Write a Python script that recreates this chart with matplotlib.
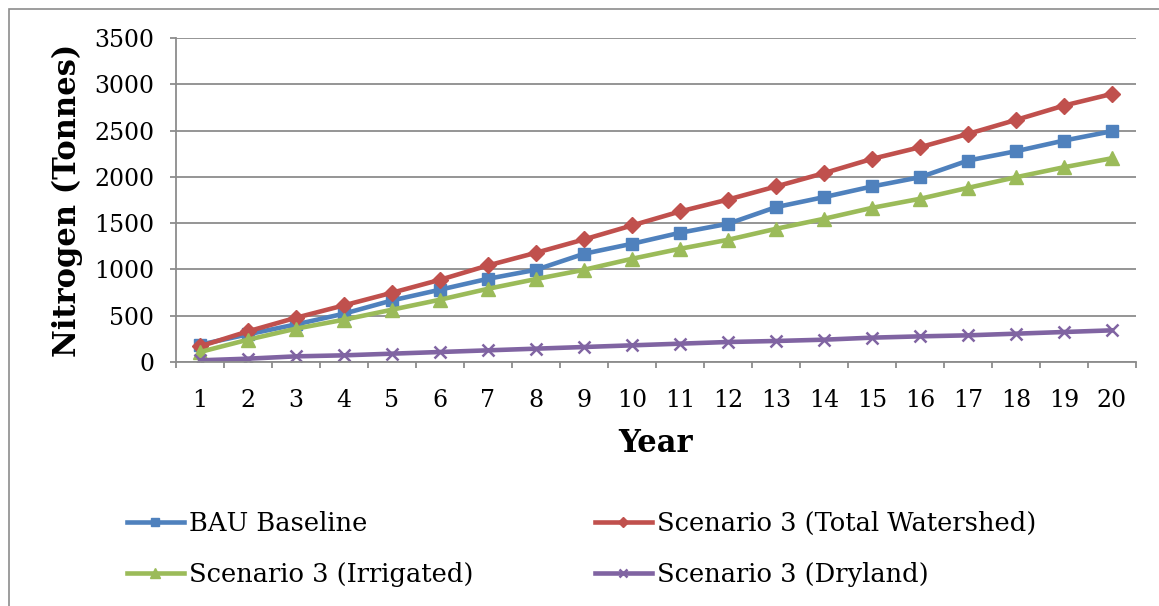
import matplotlib
matplotlib.use("Agg")
from matplotlib import pyplot as plt
from matplotlib.patches import Rectangle

years = list(range(1, 21))
bau_baseline = [187, 299, 406, 522, 665, 781, 899, 996, 1169, 1277,
                1396, 1493, 1673, 1781, 1896, 1996, 2176, 2277, 2392, 2493]
total_watershed = [169, 331, 478, 612, 748, 888, 1043, 1180, 1324, 1475,
                   1626, 1755, 1896, 2040, 2194, 2320, 2464, 2615, 2770, 2896]
irrigated = [108, 241, 360, 457, 565, 673, 791, 896, 996, 1115,
             1223, 1320, 1439, 1547, 1665, 1763, 1881, 1996, 2104, 2201]
dryland = [18, 36, 61, 72, 90, 108, 126, 144, 162, 180,
           198, 216, 227, 241, 263, 277, 288, 306, 324, 342]

series_names = ["BAU Baseline", "Scenario 3 (Total Watershed)",
                "Scenario 3 (Irrigated)", "Scenario 3 (Dryland)"]

plt.rcParams['font.family'] = ['DejaVu Serif']

fig = plt.figure(figsize=(11.59, 6.06), dpi=100)
W, H = 1159, 606
ax = fig.add_axes([176 / W, 1 - 362 / H, (1136 - 176) / W, (362 - 38) / H])

# outer chart frame
fig.patches.append(Rectangle((9 / W, -0.1), 1.2, 1 - 9 / H + 0.1, transform=fig.transFigure,
                             fill=False, edgecolor='#8c8c8c', linewidth=1.2))

lw = 3.3
l1, = ax.plot(years, bau_baseline, color='#4F81BD', lw=lw, marker='s', ms=9, label=series_names[0])
l2, = ax.plot(years, total_watershed, color='#C0504D', lw=lw, marker='D', ms=8, label=series_names[1])
l3, = ax.plot(years, irrigated, color='#9BBB59', lw=lw, marker='^', ms=10, label=series_names[2])
l4, = ax.plot(years, dryland, color='#8064A2', lw=lw, marker='x', ms=9, mew=1.8, label=series_names[3])

ax.set_xlim(0.5, 20.5)
ax.set_ylim(0, 3500)
ax.set_yticks(range(0, 3501, 500))
ax.yaxis.grid(True, color='#8c8c8c', linewidth=1.3)
ax.set_axisbelow(True)

ax.set_xticks(years)
ax.set_xticks([y + 0.5 for y in range(0, 21)], minor=True)
ax.tick_params(axis='x', which='major', length=0, pad=19.5, labelsize=17)
ax.tick_params(axis='x', which='minor', length=4.5, color='#8c8c8c', width=1.3, direction='out')
ax.tick_params(axis='y', length=4.5, color='#8c8c8c', width=1.3, direction='out', pad=11, labelsize=17)

for s in ['top', 'right']:
    ax.spines[s].set_visible(False)
for s in ['left', 'bottom']:
    ax.spines[s].set_color('#8c8c8c')
    ax.spines[s].set_linewidth(1.3)

ax.set_xlabel('Year', fontsize=22, fontweight='bold', labelpad=11.5)
ax.set_ylabel('Nitrogen (Tonnes)', fontsize=22, fontweight='bold', labelpad=8)

# column-wise fill: col 1 = BAU, Irrigated ; col 2 = Total, Dryland
fig.legend([l1, l3, l2, l4], [series_names[0], series_names[2], series_names[1], series_names[3]],
           loc='upper left', bbox_to_anchor=(104 / W, 1 - 488 / H), ncol=2,
           frameon=False, fontsize=18.5, handlelength=2.2, handletextpad=0.2,
           columnspacing=4.75, labelspacing=1.0, markerscale=0.7)

fig.savefig("out.png", dpi=100)
